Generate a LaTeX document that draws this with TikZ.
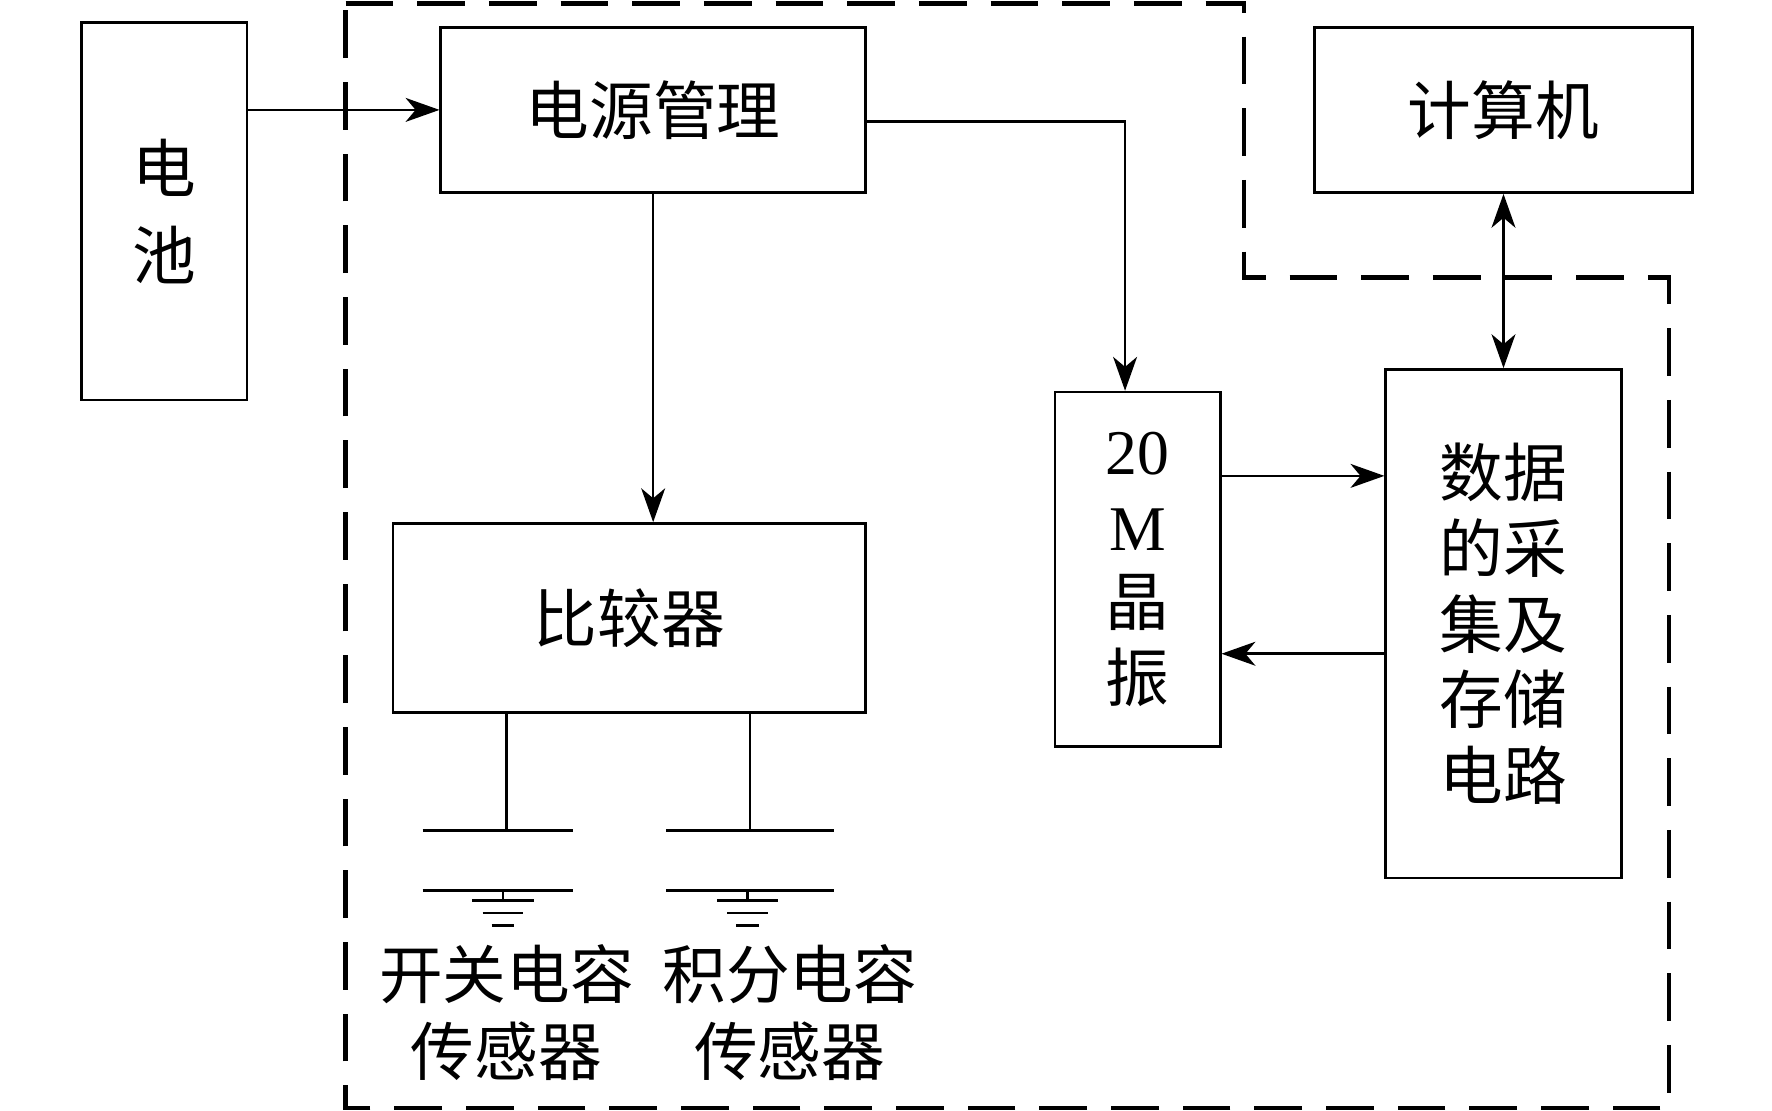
\documentclass[tikz,border=0pt]{standalone}
\usepackage{fontspec}
\setmainfont{Liberation Serif}
\newfontfamily\cjk{Noto Sans CJK SC}
\usetikzlibrary{arrows.meta,positioning}

\begin{document}
\begin{tikzpicture}[x=0.02cm,y=-0.02cm,>={Stealth[length=17pt,width=12pt,inset=5pt]},
  line width=1.3pt,
  every node/.style={font=\fontsize{32}{42}\selectfont\cjk},
  box/.style={draw,inner sep=0pt,align=center},
  frame/.style={line width=2.3pt,dash pattern=on 24pt off 12pt}]
\useasboundingbox (0,0) rectangle (1564,980);

% blocks
\node[box,minimum width=2.92cm,minimum height=6.66cm] (bat) at (145,186.5) {电\\[2pt]池};
\node[box,minimum width=7.5cm,minimum height=2.92cm] (pwr) at (576.5,97) {电源管理};
\node[box,minimum width=6.68cm,minimum height=2.92cm] (pc) at (1327,97) {计算机};
\node[box,minimum width=8.34cm,minimum height=3.34cm] (cmp) at (555.5,545.5) {比较器};
\node[box,minimum width=2.92cm,minimum height=6.26cm] (osc) at (1004,502.5)
  {{\rmfamily 20}\\[-4pt]{\rmfamily M}\\[-4pt]晶\\[-4pt]振};
\node[box,minimum width=4.16cm,minimum height=8.98cm] (daq) at (1327,550.5)
  {数据\\[-4pt]的采\\[-4pt]集及\\[-4pt]存储\\[-4pt]电路};

% dashed frame
\draw[frame] (305,3) -- (1098,3) -- (1098,245) -- (1473,245) -- (1473,978)
  -- (305,978) -- cycle;

% connectors
\draw[->] (bat.east |- pwr) -- (pwr.west);
\draw[->] ([xshift=0.42cm]pwr.south -| cmp.north) -- ([xshift=0.42cm]cmp.north);
\draw[->] ([yshift=-0.2cm]pwr.east) -| (osc.north -| 993,0);
\draw[<->] (pc.south) -- (daq.north);
\draw[->] ([yshift=1.65cm]osc.east) -- ([yshift=1.65cm]osc.east -| daq.west);
\draw[->] ([yshift=-0.53cm]daq.west) -- ([yshift=-0.53cm]daq.west -| osc.east);

% capacitor sensors
\foreach \cx/\l/\r/\g in {447/373/506/444, 662/588/736/660}{
  \draw (\cx,629) -- (\cx,733);
  \draw (\l,733) -- (\r,733);
  \draw (\l,786) -- (\r,786) (\g,786) -- (\g,795);
  \draw (\g-27,795) -- (\g+27,795) (\g-18,806) -- (\g+18,806) (\g-10,817) -- (\g+10,817);
}
\node (s1a) at (447,860) {开关电容};
\node (s1b) at (447,928) {传感器};
\node (s2a) at (697,860) {积分电容};
\node (s2b) at (697,928) {传感器};
\end{tikzpicture}
\end{document}
